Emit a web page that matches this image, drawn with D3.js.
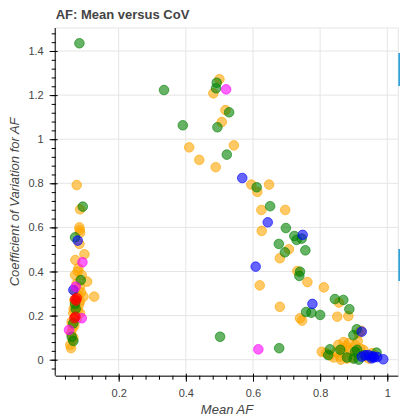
<!DOCTYPE html>
<html><head><meta charset="utf-8">
<script src="https://cdn.jsdelivr.net/npm/d3@7"></script>
<style>
body{margin:0;background:#fff;}
svg{display:block;font-family:"Liberation Sans",Arial,Helvetica,sans-serif;}
</style></head>
<body><svg id="c" width="400" height="420"></svg>
<script>
const title = "AF: Mean versus CoV";
const xLabel = "Mean AF";
const yLabel = "Coefficient of Variation for AF";
const xTicks = [0.2, 0.4, 0.6, 0.8, 1];
const yTicks = [0, 0.2, 0.4, 0.6, 0.8, 1, 1.2, 1.4];
const seriesNames = ["orange", "green", "blue", "magenta", "red"];
const seriesColors = ["#FFA500", "#008000", "#0000FF", "#FF00FF", "#FF0000"];

const orangePts = [
 [0.500,1.272],[0.482,1.208],[0.518,1.132],[0.507,1.078],[0.543,0.972],[0.410,0.963],[0.440,0.906],[0.489,0.873],
 [0.595,0.794],[0.613,0.761],[0.648,0.794],[0.625,0.679],[0.696,0.679],[0.626,0.584],[0.707,0.501],[0.680,0.460],
 [0.732,0.402],[0.762,0.352],[0.620,0.337],[0.811,0.328],[0.856,0.259],[0.680,0.240],[0.740,0.188],[0.746,0.177],
 [0.851,0.195],[0.884,0.198],[0.922,0.131],[0.915,0.120],
 [0.805,0.036],[0.829,0.020],[0.849,0.036],[0.854,0.067],[0.859,0.014],[0.865,0.050],[0.870,0.030],[0.878,0.060],
 [0.885,0.075],[0.890,0.045],[0.895,0.010],[0.900,0.025],[0.920,0.050],[0.929,0.044],[0.935,0.015],[0.945,0.005],
 [0.955,0.030],[0.880,0.005],[0.840,0.010],[0.862,0.000],[0.912,0.085],[0.905,0.065],[0.870,0.080],[0.818,0.030],
 [0.075,0.792],[0.085,0.682],[0.083,0.600],[0.084,0.588],[0.085,0.575],[0.083,0.525],[0.098,0.478],[0.071,0.452],
 [0.080,0.414],[0.090,0.384],[0.070,0.384],[0.106,0.354],[0.127,0.286],[0.080,0.290],[0.085,0.330],[0.075,0.345],
 [0.095,0.286],[0.068,0.270],[0.085,0.265],[0.070,0.245],[0.078,0.225],[0.065,0.211],[0.085,0.211],[0.072,0.200],
 [0.060,0.172],[0.068,0.155],[0.062,0.140],[0.058,0.120],[0.065,0.100],[0.056,0.067],[0.058,0.052],[0.063,0.090],
 [0.075,0.185],[0.070,0.310],[0.088,0.305],[0.078,0.400],[0.066,0.230],[0.082,0.250],[0.062,0.160]
];
const greenPts = [
 [0.083,1.435],[0.335,1.223],[0.492,1.256],[0.490,1.231],[0.391,1.063],[0.494,1.054],[0.529,1.122],[0.522,0.930],
 [0.611,0.782],[0.651,0.696],[0.698,0.597],[0.723,0.561],[0.730,0.543],[0.745,0.549],[0.677,0.525],[0.695,0.487],
 [0.756,0.496],[0.740,0.399],[0.738,0.380],[0.844,0.275],[0.869,0.271],[0.887,0.229],[0.758,0.216],[0.774,0.213],
 [0.800,0.203],[0.502,0.104],[0.678,0.052],[0.909,0.138],[0.899,0.111],
 [0.829,0.047],[0.824,0.021],[0.904,0.036],[0.910,0.045],[0.968,0.032],[0.880,0.010],[0.900,0.005],[0.930,0.020],
 [0.915,0.000],[0.860,0.045],[0.950,0.015],
 [0.093,0.694],[0.070,0.555],[0.087,0.361],[0.070,0.253],[0.065,0.165],[0.060,0.104],[0.065,0.085],[0.072,0.230]
];
const bluePts = [
 [0.568,0.824],[0.644,0.623],[0.748,0.566],[0.608,0.422],[0.777,0.253],[0.924,0.127],[0.924,0.014],[0.944,0.021],
 [0.953,0.006],[0.960,0.010],[0.988,0.002],[0.970,0.012],[0.935,0.020],[0.958,0.015],[0.078,0.540],[0.065,0.316]
];
const magentaPts = [
 [0.520,1.226],[0.616,0.047],[0.092,0.442],[0.072,0.331],[0.090,0.188],[0.052,0.135]
];
const redPts = [
 [0.070,0.274],[0.073,0.268],[0.075,0.280],[0.068,0.188],[0.071,0.195]
];
const allSeries = [orangePts, greenPts, bluePts, magentaPts, redPts];

const svg = d3.select("#c");
const L = 55.7, R = 398.3, T = 28, B = 375.7;
const x = d3.scaleLinear().domain([0.0124, 1.0328]).range([L, R]);
const y = d3.scaleLinear().domain([-0.0726, 1.5043]).range([B, T]);

// grid
const g = svg.append("g");
g.selectAll("line.gx").data(xTicks).join("line")
  .attr("x1", d => x(d)).attr("x2", d => x(d)).attr("y1", T).attr("y2", B)
  .attr("stroke", "#e5e5e5").attr("stroke-width", 1);
g.selectAll("line.gy").data(yTicks).join("line")
  .attr("y1", d => y(d)).attr("y2", d => y(d)).attr("x1", L).attr("x2", R)
  .attr("stroke", "#e5e5e5").attr("stroke-width", 1);
// frame outline
svg.append("rect").attr("x", L).attr("y", T).attr("width", R - L).attr("height", B - T)
  .attr("fill", "none").attr("stroke", "#e5e5e5").attr("stroke-width", 1);

// points
const pg = svg.append("g");
allSeries.forEach((pts, i) => {
  pg.append("g").selectAll("circle").data(pts).join("circle")
    .attr("cx", d => x(d[0])).attr("cy", d => y(d[1])).attr("r", 4.8)
    .attr("fill", seriesColors[i]).attr("fill-opacity", 0.6)
    .attr("stroke", seriesColors[i]).attr("stroke-opacity", 0.6).attr("stroke-width", 1);
});

// minor ticks
const xMinor = d3.range(0.04, 1.03, 0.04).map(v => +v.toFixed(2));
const yMinor = d3.range(-0.04, 1.5, 0.04).map(v => +v.toFixed(2));
svg.append("g").attr("transform", `translate(0,${B})`)
  .call(d3.axisBottom(x).tickValues(xMinor).tickSize(4).tickFormat(""))
  .call(a => a.select(".domain").remove())
  .selectAll("line").attr("stroke", "#000");
svg.append("g").attr("transform", `translate(${L},0)`)
  .call(d3.axisLeft(y).tickValues(yMinor).tickSize(4).tickFormat(""))
  .call(a => a.select(".domain").remove())
  .selectAll("line").attr("stroke", "#000");

// major axes
const xa = svg.append("g").attr("transform", `translate(0,${B})`)
  .call(d3.axisBottom(x).tickValues(xTicks).tickSizeInner(6).tickSizeOuter(0).tickPadding(8).tickFormat(d3.format("~g")));
xa.select(".domain").attr("d", `M${L},0.5H${R}`).attr("stroke", "#000");
xa.selectAll(".tick line").attr("stroke", "#000").attr("y1", -2);
xa.selectAll("text").attr("font-size", 11).attr("fill", "#444").attr("font-family", "Liberation Sans, Arial, sans-serif");

const ya = svg.append("g").attr("transform", `translate(${L},0)`)
  .call(d3.axisLeft(y).tickValues(yTicks).tickSizeInner(6).tickSizeOuter(0).tickPadding(6).tickFormat(d3.format("~g")));
ya.select(".domain").attr("d", `M-0.5,${T}V${B}`).attr("stroke", "#000");
ya.selectAll(".tick line").attr("stroke", "#000").attr("x1", 2);
ya.selectAll("text").attr("font-size", 11).attr("fill", "#444").attr("font-family", "Liberation Sans, Arial, sans-serif");

// labels
svg.append("text").attr("x", L).attr("y", 19).attr("font-size", 13).attr("font-weight", "bold")
  .attr("fill", "#444").text(title);
svg.append("text").attr("x", (L + R) / 2).attr("y", 414).attr("text-anchor", "middle")
  .attr("font-size", 13).attr("font-style", "italic").attr("fill", "#444").text(xLabel);
svg.append("text").attr("transform", `translate(19,${(T + B) / 2}) rotate(-90)`).attr("text-anchor", "middle")
  .attr("font-size", 13).attr("font-style", "italic").attr("fill", "#444").text(yLabel);

// toolbar edge marks
svg.append("rect").attr("x", 398.3).attr("y", 53).attr("width", 2).attr("height", 33).attr("fill", "#2fa2dc");
svg.append("rect").attr("x", 398.3).attr("y", 249).attr("width", 2).attr("height", 32).attr("fill", "#2fa2dc");
</script></body></html>
